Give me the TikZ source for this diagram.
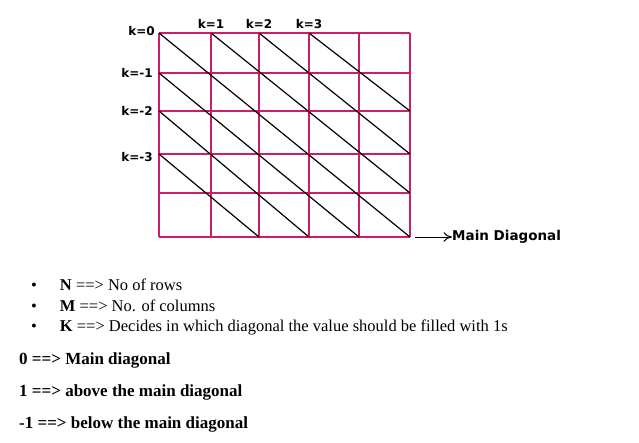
\documentclass[tikz,border=0pt]{standalone}
\usepackage{fontspec}
\setmainfont{Liberation Serif}
\newfontfamily\labelfont{DejaVu Sans}
\usepackage{tikz}
\usetikzlibrary{arrows.meta,positioning}
\definecolor{gridpink}{RGB}{204,30,104}

\begin{document}
\begin{tikzpicture}[x=1pt,y=-1pt,
    gridline/.style={draw=gridpink,line width=1.8pt},
    diag/.style={draw=black,line width=1.2pt},
    klabel/.style={font=\labelfont\bfseries\fontsize{12}{14}\selectfont,inner sep=0pt},
    bullet/.style={anchor=west,inner sep=0pt,font=\fontsize{16.5}{18}\selectfont},
    rule/.style={anchor=west,inner sep=0pt,font=\bfseries\fontsize{17}{19}\selectfont},
    arrow/.style={-{To[length=3mm,width=3.4mm]},line width=1pt}]
    \useasboundingbox (0,0) rectangle (639,442);
    % corners of the matrix
    \foreach \x [count=\i from 0] in {159,211,259,309,359,410}
      \foreach \y [count=\j from 0] in {33,73,111,154,193,237}
        \coordinate (c-\i-\j) at (\x,\y);
    \foreach \i in {0,...,5}
      \draw[gridline] (c-\i-0) -- (c-\i-5);
    \foreach \j in {0,...,5}
      \draw[gridline] (c-0-\j) -- (c-5-\j);
    % diagonals
    \draw[diag] (c-0-0) -- (c-5-5);
    \draw[diag] (c-1-0) -- (c-5-4);
    \draw[diag] (c-2-0) -- (c-5-3);
    \draw[diag] (c-3-0) -- (c-5-2);
    \draw[diag] (c-0-1) -- (c-4-5);
    \draw[diag] (c-0-2) -- (c-3-5);
    \draw[diag] (c-0-3) -- (c-2-5);
    % labels
    \node[klabel,left=4pt of c-0-0,yshift=2pt] (k0) {k=0};
    \node[klabel,above=4pt of c-1-0] (k1) {k=1};
    \node[klabel,above=4pt of c-2-0] (k2) {k=2};
    \node[klabel,above=4pt of c-3-0] (k3) {k=3};
    \node[klabel,left=6pt of c-0-1] (km1) {k=-1};
    \node[klabel,left=6pt of c-0-2] (km2) {k=-2};
    \node[klabel,left=6pt of c-0-3,yshift=-3pt] (km3) {k=-3};
    \coordinate[right=5pt of c-5-5] (start);
    \node[klabel,font=\labelfont\bfseries\fontsize{13.5}{15}\selectfont,
          right=42pt of c-5-5,anchor=west] (main) {Main Diagonal};
    \draw[arrow] (start) -- (main.west);
    % notes
    \node[bullet] (b1) at (31,285) {\textbullet\hspace{23pt}\textbf{N} ==> No of rows};
    \node[bullet] (b2) at (31,306) {\textbullet\hspace{23pt}\textbf{M} ==> No. of columns};
    \node[bullet] (b3) at (31,327) {\textbullet\hspace{23pt}\textbf{K} ==> Decides in which diagonal the value should be filled with 1s};
    \node[rule] (r0) at (19,360) {0 ==> Main diagonal};
    \node[rule] (r1) at (19,392) {1 ==> above the main diagonal};
    \node[rule] (r2) at (19,424) {-1 ==> below the main diagonal};
\end{tikzpicture}
\end{document}
